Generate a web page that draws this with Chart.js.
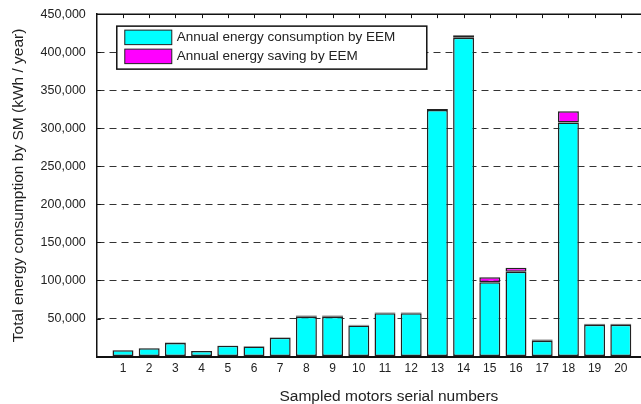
<!DOCTYPE html>
<html>
<head>
<meta charset="utf-8">
<script src="https://cdn.jsdelivr.net/npm/chart.js@4.4.1/dist/chart.umd.min.js"></script>
<style>
html, body { margin: 0; padding: 0; overflow: hidden; background: #fff; }
#wrap { position: relative; width: 652px; height: 404px; }
</style>
</head>
<body>
<div id="wrap"><canvas id="chart"></canvas></div>
<script>
// sampled motors 1..20
var serials = ['1','2','3','4','5','6','7','8','9','10','11','12','13','14','15','16','17','18','19','20'];
// annual energy consumption by EEM (kWh/year)
var consumption = [8500, 10900, 17900, 7200, 14200, 13200, 24900, 52500, 52500, 40900,
                   56900, 56900, 324000, 418800, 97800, 111400, 20900, 307500, 42000, 42000];
// annual energy saving by EEM (kWh/year)
var saving = [300, 500, 500, 300, 300, 800, 500, 1500, 1500, 800,
              1000, 1000, 1500, 3500, 6500, 5300, 1500, 14800, 1000, 1000];
var yTicks = [0, 50000, 100000, 150000, 200000, 250000, 300000, 350000, 400000, 450000];
var xTitle = 'Sampled motors serial numbers';

var FONT = "'Liberation Sans', Arial, sans-serif";

// pad an empty slot on each side so the axis runs 0..21
var labels = [''].concat(serials, ['']);
function pad(arr) { return [null].concat(arr, [null]); }

var framePlugin = {
  id: 'frame',
  afterDatasetsDraw: function(chart) {
    var ctx = chart.ctx, a = chart.chartArea;
    var x = chart.scales.x, y = chart.scales.y;
    ctx.save();
    // top border
    ctx.strokeStyle = '#111';
    ctx.lineWidth = 1.5;
    ctx.beginPath();
    ctx.moveTo(a.left, a.top);
    ctx.lineTo(a.right, a.top);
    ctx.stroke();
    // small ticks
    ctx.lineWidth = 1;
    ctx.beginPath();
    for (var i = 1; i <= serials.length; i++) {
      var px = Math.round(x.getPixelForValue(i)) + 0.5;
      ctx.moveTo(px, a.top);
      ctx.lineTo(px, a.top + 4);
    }
    yTicks.forEach(function(v) {
      var py = Math.round(y.getPixelForValue(v)) + 0.5;
      ctx.moveTo(a.left, py);
      ctx.lineTo(a.left + 4, py);
    });
    ctx.stroke();

    // x axis title (sits a little right of plot centre in the original)
    ctx.fillStyle = '#222';
    ctx.font = '15.5px ' + FONT;
    ctx.textAlign = 'center';
    ctx.textBaseline = 'middle';
    ctx.fillText(xTitle, (a.left + a.right) / 2 + 17, 397);

    // legend box inside plot
    var bx = a.left + 20, by = a.top + 12, bw = 310, bh = 43;
    ctx.fillStyle = '#fff';
    ctx.fillRect(bx, by, bw, bh);
    ctx.strokeStyle = '#111';
    ctx.lineWidth = 1.5;
    ctx.strokeRect(bx, by, bw, bh);
    ctx.font = '13.5px ' + FONT;
    ctx.textAlign = 'left';
    chart.data.datasets.forEach(function(ds, k) {
      var sy = by + 4 + k * 19;
      ctx.fillStyle = ds.backgroundColor;
      ctx.fillRect(bx + 8, sy, 47, 14.5);
      ctx.strokeStyle = '#222';
      ctx.lineWidth = 1;
      ctx.strokeRect(bx + 8, sy, 47, 14.5);
      ctx.fillStyle = '#222';
      ctx.fillText(ds.label, bx + 60, sy + 7.5);
    });
    ctx.restore();
  }
};

new Chart(document.getElementById('chart'), {
  type: 'bar',
  data: {
    labels: labels,
    datasets: [
      {
        label: 'Annual energy consumption by EEM',
        data: pad(consumption),
        backgroundColor: '#00ffff',
        borderColor: '#222',
        borderWidth: 1.5,
        borderSkipped: false
      },
      {
        label: 'Annual energy saving by EEM',
        data: pad(saving),
        backgroundColor: '#ff00ff',
        borderColor: '#222',
        borderWidth: 1.5,
        borderSkipped: false
      }
    ]
  },
  options: {
    responsive: true,
    maintainAspectRatio: false,
    animation: false,
    layout: { padding: { top: 14, right: 1, left: 0, bottom: 23 } },
    plugins: {
      legend: { display: false },
      tooltip: { enabled: false }
    },
    datasets: {
      bar: { barPercentage: 0.8, categoryPercentage: 1 }
    },
    scales: {
      x: {
        stacked: true,
        offset: false,
        grid: { display: false, drawTicks: false },
        border: { display: true, color: '#111', width: 2 },
        ticks: {
          color: '#222',
          font: { family: FONT, size: 12 },
          padding: 5,
          maxRotation: 0,
          autoSkip: false
        },
        title: { display: false }
      },
      y: {
        stacked: true,
        min: 0,
        max: 450000,
        afterBuildTicks: function(scale) {
          scale.ticks = yTicks.map(function(v) { return { value: v }; });
        },
        grid: {
          drawTicks: false,
          color: function(c) {
            var v = c.tick ? c.tick.value : 0;
            return (v === 0 || v === 450000) ? 'rgba(0,0,0,0)' : '#333';
          },
          lineWidth: 1
        },
        border: { display: true, color: '#111', width: 1.5, dash: [7, 5] },
        ticks: {
          color: '#222',
          font: { family: FONT, size: 12.5, lineHeight: 0.5 },
          padding: 11,
          callback: function(v) {
            return v === 0 ? '' : v.toLocaleString('en-US');
          }
        },
        title: {
          display: true,
          text: 'Total energy consumption by SM (kWh / year)',
          color: '#222',
          font: { family: FONT, size: 15.5 },
          padding: { top: 9, bottom: 2 }
        }
      }
    }
  },
  plugins: [framePlugin]
});
</script>
</body>
</html>
